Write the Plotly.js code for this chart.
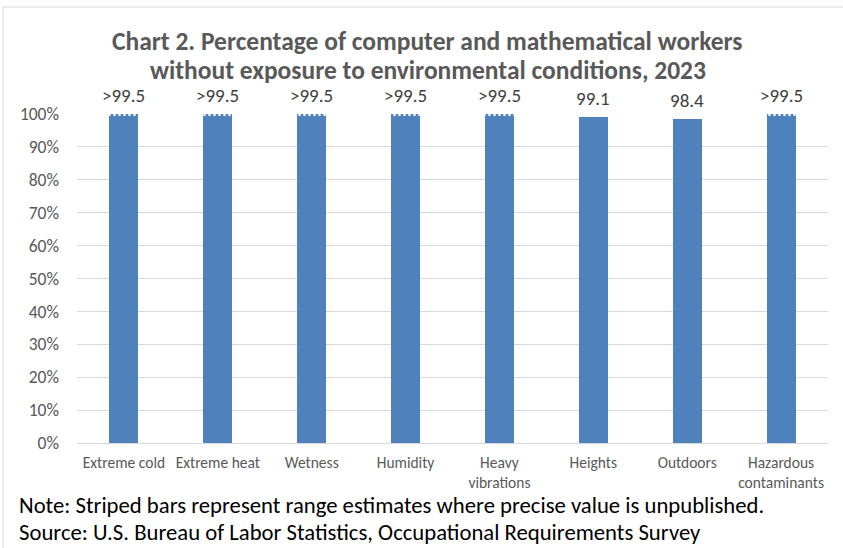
<!DOCTYPE html>
<html>
<head>
<meta charset="utf-8">
<script src="https://cdn.plot.ly/plotly-3.0.1.min.js"></script>
<style>
html,body{margin:0;padding:0;background:#fff;}
#chart{width:843px;height:548px;}
</style>
</head>
<body>
<div id="chart"></div>
<script>
const categories = ["Extreme cold", "Extreme heat", "Wetness", "Humidity", "Heavy<br>vibrations", "Heights", "Outdoors", "Hazardous<br>contaminants"];
const solidValues = [99.5, 99.5, 99.5, 99.5, 99.5, 99.1, 98.4, 99.5];
const stripedValues = [0.5, 0.5, 0.5, 0.5, 0.5, 0, 0, 0.5];
const labelValues = [100, 100, 100, 100, 100, 99.1, 98.4, 100];
const labels = [">99.5", ">99.5", ">99.5", ">99.5", ">99.5", "99.1", "98.4", ">99.5"];
const yTickVals = [0, 10, 20, 30, 40, 50, 60, 70, 80, 90, 100];
const yTickText = yTickVals.map(v => v + "%");

const FONT = "Carlito, Lato, 'Open Sans', sans-serif";
const BLUE = "#4f81bd";

const traces = [
  {
    type: "bar", x: categories, y: solidValues, width: 0.31,
    marker: {color: BLUE}, hoverinfo: "skip", showlegend: false
  },
  {
    type: "bar", x: categories, y: stripedValues, width: 0.31,
    marker: {color: BLUE, pattern: {shape: "|", fgcolor: "#ffffff", bgcolor: BLUE, size: 5, solidity: 0.45}},
    hoverinfo: "skip", showlegend: false
  }
];

const labelAnnotations = categories.map((c, i) => ({
  x: c, y: labelValues[i], xref: "x", yref: "y", text: labels[i],
  showarrow: false, xanchor: "center", yanchor: "bottom", yshift: 6, borderpad: 0,
  font: {family: FONT, size: 19, color: "#404040"}
}));

const layout = {
  width: 843, height: 548,
  margin: {l: 77, r: 15, t: 114, b: 105},
  paper_bgcolor: "#ffffff", plot_bgcolor: "#ffffff",
  barmode: "stack",
  font: {family: FONT, color: "#595959"},
  xaxis: {
    type: "category", showgrid: false, zeroline: false, showline: false,
    tickfont: {family: FONT, size: 15.5, color: "#595959"}, ticks: "",
    ticklabelstandoff: 8, fixedrange: true
  },
  yaxis: {
    range: [0, 100], tickmode: "array", tickvals: yTickVals, ticktext: yTickText,
    showgrid: true, gridcolor: "#d9d9d9", gridwidth: 1,
    zeroline: true, zerolinecolor: "#d9d9d9", zerolinewidth: 1,
    showline: false, ticks: "",
    tickfont: {family: FONT, size: 17.5, color: "#595959"},
    ticklabelstandoff: 17, fixedrange: true
  },
  annotations: labelAnnotations.concat([
    {
      text: "<b>Chart 2. Percentage of computer and mathematical workers</b>",
      xref: "paper", yref: "paper", x: (427-77)/751, y: (443-41)/329,
      xanchor: "center", yanchor: "middle", showarrow: false, borderpad: 0,
      font: {family: FONT, size: 25.5, color: "#595959"}
    },
    {
      text: "<b>without exposure to environmental conditions, 2023</b>",
      xref: "paper", yref: "paper", x: (428-77)/751, y: (443-70)/329,
      xanchor: "center", yanchor: "middle", showarrow: false, borderpad: 0,
      font: {family: FONT, size: 25.5, color: "#595959"}
    },
    {
      text: "Note: Striped bars represent range estimates where precise value is unpublished.",
      xref: "paper", yref: "paper", x: (17-77)/751, y: -(505-443)/329,
      xanchor: "left", yanchor: "middle", showarrow: false,
      font: {family: FONT, size: 22.7, color: "#000000"}
    },
    {
      text: "Source: U.S. Bureau of Labor Statistics, Occupational Requirements Survey",
      xref: "paper", yref: "paper", x: (17-77)/751, y: -(532-443)/329,
      xanchor: "left", yanchor: "middle", showarrow: false,
      font: {family: FONT, size: 22.7, color: "#000000"}
    }
  ]),
  shapes: [
    {type: "line", xref: "paper", yref: "paper", x0: (3-77)/751, x1: (3-77)/751, y0: (443-7)/329, y1: -(560-443)/329, line: {color: "#d9d9d9", width: 1}},
    {type: "line", xref: "paper", yref: "paper", x0: (3-77)/751, x1: (850-77)/751, y0: (443-7)/329, y1: (443-7)/329, line: {color: "#d9d9d9", width: 1}}
  ]
};

Plotly.newPlot("chart", traces, layout, {displayModeBar: false, staticPlot: true});
</script>
</body>
</html>
